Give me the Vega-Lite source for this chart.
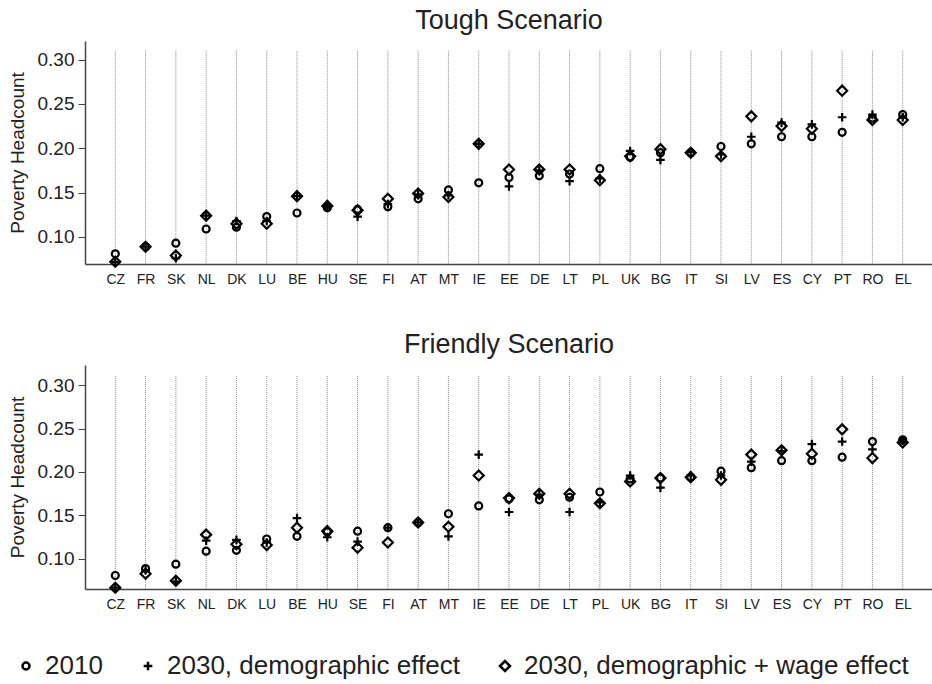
{
  "$schema": "https://vega.github.io/schema/vega-lite/v6.json",
  "background": "white",
  "padding": {"left": 8, "top": 7, "right": 0, "bottom": 0},
  "spacing": 45,
  "config": {
    "font": "Liberation Sans",
    "view": {"stroke": null},
    "title": {"fontSize": 27, "fontWeight": "normal", "color": "#222", "baseline": "alphabetic", "offset": 6, "anchor": "middle"}
  },
  "datasets": {
    "d": [
      {"s":"T","c":"CZ","a":0.081,"b":0.072,"d":0.072},
      {"s":"T","c":"FR","a":0.089,"b":0.089,"d":0.089},
      {"s":"T","c":"SK","a":0.093,"b":0.076,"d":0.079},
      {"s":"T","c":"NL","a":0.109,"b":0.124,"d":0.124},
      {"s":"T","c":"DK","a":0.111,"b":0.118,"d":0.115},
      {"s":"T","c":"LU","a":0.123,"b":0.118,"d":0.115},
      {"s":"T","c":"BE","a":0.127,"b":0.146,"d":0.146},
      {"s":"T","c":"HU","a":0.133,"b":0.134,"d":0.135},
      {"s":"T","c":"SE","a":0.131,"b":0.123,"d":0.130},
      {"s":"T","c":"FI","a":0.134,"b":0.137,"d":0.143},
      {"s":"T","c":"AT","a":0.143,"b":0.148,"d":0.149},
      {"s":"T","c":"MT","a":0.153,"b":0.147,"d":0.145},
      {"s":"T","c":"IE","a":0.161,"b":0.205,"d":0.205},
      {"s":"T","c":"EE","a":0.167,"b":0.157,"d":0.176},
      {"s":"T","c":"DE","a":0.169,"b":0.175,"d":0.176},
      {"s":"T","c":"LT","a":0.171,"b":0.163,"d":0.176},
      {"s":"T","c":"PL","a":0.177,"b":0.166,"d":0.164},
      {"s":"T","c":"UK","a":0.190,"b":0.197,"d":0.191},
      {"s":"T","c":"BG","a":0.195,"b":0.187,"d":0.199},
      {"s":"T","c":"IT","a":0.195,"b":0.196,"d":0.195},
      {"s":"T","c":"SI","a":0.202,"b":0.193,"d":0.191},
      {"s":"T","c":"LV","a":0.205,"b":0.213,"d":0.236},
      {"s":"T","c":"ES","a":0.213,"b":0.229,"d":0.225},
      {"s":"T","c":"CY","a":0.213,"b":0.227,"d":0.222},
      {"s":"T","c":"PT","a":0.218,"b":0.235,"d":0.265},
      {"s":"T","c":"RO","a":0.234,"b":0.238,"d":0.232},
      {"s":"T","c":"EL","a":0.238,"b":0.235,"d":0.232},
      {"s":"F","c":"CZ","a":0.081,"b":0.067,"d":0.067},
      {"s":"F","c":"FR","a":0.089,"b":0.087,"d":0.083},
      {"s":"F","c":"SK","a":0.094,"b":0.074,"d":0.075},
      {"s":"F","c":"NL","a":0.109,"b":0.121,"d":0.128},
      {"s":"F","c":"DK","a":0.110,"b":0.122,"d":0.117},
      {"s":"F","c":"LU","a":0.123,"b":0.119,"d":0.116},
      {"s":"F","c":"BE","a":0.126,"b":0.147,"d":0.136},
      {"s":"F","c":"HU","a":0.131,"b":0.125,"d":0.132},
      {"s":"F","c":"SE","a":0.132,"b":0.120,"d":0.113},
      {"s":"F","c":"FI","a":0.136,"b":0.136,"d":0.119},
      {"s":"F","c":"AT","a":0.142,"b":0.142,"d":0.142},
      {"s":"F","c":"MT","a":0.152,"b":0.126,"d":0.137},
      {"s":"F","c":"IE","a":0.161,"b":0.220,"d":0.196},
      {"s":"F","c":"EE","a":0.169,"b":0.154,"d":0.170},
      {"s":"F","c":"DE","a":0.168,"b":0.174,"d":0.175},
      {"s":"F","c":"LT","a":0.171,"b":0.154,"d":0.175},
      {"s":"F","c":"PL","a":0.177,"b":0.165,"d":0.164},
      {"s":"F","c":"UK","a":0.192,"b":0.196,"d":0.189},
      {"s":"F","c":"BG","a":0.193,"b":0.182,"d":0.193},
      {"s":"F","c":"IT","a":0.194,"b":0.196,"d":0.194},
      {"s":"F","c":"SI","a":0.201,"b":0.196,"d":0.191},
      {"s":"F","c":"LV","a":0.205,"b":0.212,"d":0.220},
      {"s":"F","c":"ES","a":0.213,"b":0.224,"d":0.225},
      {"s":"F","c":"CY","a":0.213,"b":0.232,"d":0.221},
      {"s":"F","c":"PT","a":0.217,"b":0.235,"d":0.249},
      {"s":"F","c":"RO","a":0.235,"b":0.226,"d":0.216},
      {"s":"F","c":"EL","a":0.237,"b":0.236,"d":0.234}
    ]
  },
  "resolve": {"scale": {"shape": "shared", "size": "shared"}},
  "vconcat": [
    {
      "title": "Tough Scenario",
      "width": 848,
      "height": 223,
      "data": {"name": "d"},
      "transform": [{"filter": "datum.s == 'T'"}, {"fold": ["a", "b", "d"], "as": ["k", "v"]}],
      "layer": [
        {
          "transform": [{"filter": "datum.k == 'a'"}],
          "mark": {"type": "rule", "color": "#8a8a8a", "strokeDash": [1, 1], "strokeWidth": 1},
          "encoding": {
            "x": {"field": "c", "type": "nominal", "sort": null, "scale": {"type": "point", "padding": 1.13, "domain": ["CZ","FR","SK","NL","DK","LU","BE","HU","SE","FI","AT","MT","IE","EE","DE","LT","PL","UK","BG","IT","SI","LV","ES","CY","PT","RO","EL"]}, "axis": {"title": null, "labelAngle": 0, "ticks": false, "tickSize": 0, "labelFontSize": 14, "labelPadding": 8, "labelColor": "#222", "domainColor": "#444", "domainWidth": 1.5, "grid": false}},
            "y": {"datum": 0.31, "type": "quantitative"},
            "y2": {"datum": 0.0695}
          }
        },
        {
          "mark": {"type": "point", "filled": false, "color": "black", "strokeWidth": 2.2, "opacity": 1},
          "encoding": {
            "x": {"field": "c", "type": "nominal", "sort": null},
            "y": {"field": "v", "type": "quantitative", "scale": {"domain": [0.0695, 0.321], "nice": false, "zero": false}, "axis": {"title": "Poverty Headcount", "titleFontSize": 19, "titleFontWeight": "normal", "titleColor": "#222", "titlePadding": 10, "labelFontSize": 19, "labelPadding": 4, "labelColor": "#222", "values": [0.10, 0.15, 0.20, 0.25, 0.30], "format": ".2f", "tickSize": 7, "tickColor": "#444", "domainColor": "#444", "domainWidth": 1.5, "grid": false}},
            "shape": {"field": "k", "type": "nominal", "scale": {"domain": ["a", "b", "d"], "range": ["circle", "M-1,0H1M0,-1V1", "diamond"]}, "legend": {"title": null, "orient": "none", "legendX": -72, "legendY": 612, "direction": "horizontal", "labelFontSize": 26, "labelColor": "#222", "labelLimit": 0, "labelOffset": 6, "columnPadding": 32, "symbolStrokeColor": "black", "symbolStrokeWidth": 2.5, "symbolFillColor": "transparent", "labelExpr": "datum.label == 'a' ? '2010' : datum.label == 'b' ? '2030, demographic effect' : '2030, demographic + wage effect'"}},
            "size": {"field": "k", "type": "nominal", "scale": {"domain": ["a", "b", "d"], "range": [49, 100, 169]}, "legend": {"title": null, "orient": "none", "legendX": -72, "legendY": 612, "direction": "horizontal", "labelFontSize": 26, "labelColor": "#222", "labelLimit": 0, "labelOffset": 6, "columnPadding": 32, "symbolStrokeColor": "black", "symbolStrokeWidth": 2.5, "symbolFillColor": "transparent", "labelExpr": "datum.label == 'a' ? '2010' : datum.label == 'b' ? '2030, demographic effect' : '2030, demographic + wage effect'"}}
          }
        }
      ]
    },
    {
      "title": "Friendly Scenario",
      "width": 848,
      "height": 224,
      "data": {"name": "d"},
      "transform": [{"filter": "datum.s == 'F'"}, {"fold": ["a", "b", "d"], "as": ["k", "v"]}],
      "layer": [
        {
          "transform": [{"filter": "datum.k == 'a'"}],
          "mark": {"type": "rule", "color": "#8a8a8a", "strokeDash": [1, 1], "strokeWidth": 1},
          "encoding": {
            "x": {"field": "c", "type": "nominal", "sort": null, "scale": {"type": "point", "padding": 1.13, "domain": ["CZ","FR","SK","NL","DK","LU","BE","HU","SE","FI","AT","MT","IE","EE","DE","LT","PL","UK","BG","IT","SI","LV","ES","CY","PT","RO","EL"]}, "axis": {"title": null, "labelAngle": 0, "ticks": false, "tickSize": 0, "labelFontSize": 14, "labelPadding": 8, "labelColor": "#222", "domainColor": "#444", "domainWidth": 1.5, "grid": false}},
            "y": {"datum": 0.3103, "type": "quantitative"},
            "y2": {"datum": 0.0655}
          }
        },
        {
          "mark": {"type": "point", "filled": false, "color": "black", "strokeWidth": 2.2, "opacity": 1},
          "encoding": {
            "x": {"field": "c", "type": "nominal", "sort": null},
            "y": {"field": "v", "type": "quantitative", "scale": {"domain": [0.0655, 0.323], "nice": false, "zero": false}, "axis": {"title": "Poverty Headcount", "titleFontSize": 19, "titleFontWeight": "normal", "titleColor": "#222", "titlePadding": 10, "labelFontSize": 19, "labelPadding": 4, "labelColor": "#222", "values": [0.10, 0.15, 0.20, 0.25, 0.30], "format": ".2f", "tickSize": 7, "tickColor": "#444", "domainColor": "#444", "domainWidth": 1.5, "grid": false}},
            "shape": {"field": "k", "type": "nominal", "scale": {"domain": ["a", "b", "d"], "range": ["circle", "M-1,0H1M0,-1V1", "diamond"]}, "legend": {"title": null, "orient": "none", "legendX": -72, "legendY": 612, "direction": "horizontal", "labelFontSize": 26, "labelColor": "#222", "labelLimit": 0, "labelOffset": 6, "columnPadding": 32, "symbolStrokeColor": "black", "symbolStrokeWidth": 2.5, "symbolFillColor": "transparent", "labelExpr": "datum.label == 'a' ? '2010' : datum.label == 'b' ? '2030, demographic effect' : '2030, demographic + wage effect'"}},
            "size": {"field": "k", "type": "nominal", "scale": {"domain": ["a", "b", "d"], "range": [49, 100, 169]}, "legend": {"title": null, "orient": "none", "legendX": -72, "legendY": 612, "direction": "horizontal", "labelFontSize": 26, "labelColor": "#222", "labelLimit": 0, "labelOffset": 6, "columnPadding": 32, "symbolStrokeColor": "black", "symbolStrokeWidth": 2.5, "symbolFillColor": "transparent", "labelExpr": "datum.label == 'a' ? '2010' : datum.label == 'b' ? '2030, demographic effect' : '2030, demographic + wage effect'"}}
          }
        }
      ]
    }
  ]
}
